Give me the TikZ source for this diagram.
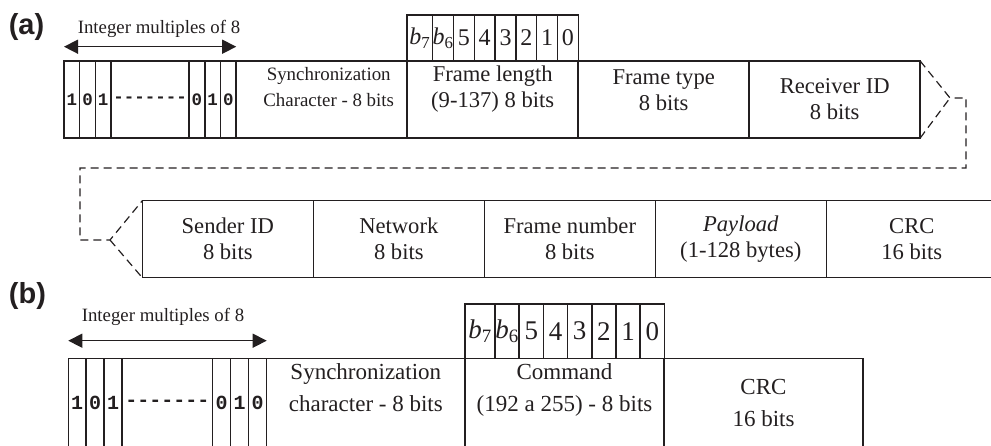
\documentclass[tikz,border=0pt]{standalone}
\usepackage{fontspec}
\setmainfont{Liberation Serif}
\setsansfont{Liberation Sans}
\setmonofont{Liberation Mono}
\usetikzlibrary{positioning,arrows.meta}
\definecolor{ink}{HTML}{231F20}

\tikzset{
  field/.style={draw=ink, text=ink, line width=1.5pt, inner sep=0pt, outer sep=0pt,
    align=center, minimum width=171pt, minimum height=77pt,
    font=\fontsize{22.6}{26}\selectfont},
  bitcell/.style={field, minimum width=15.7pt, font=\fontsize{17.5}{17.5}\ttfamily\bfseries},
  numcell/.style={field, minimum width=20.8pt, minimum height=46pt,
    font=\fontsize{24}{24}\selectfont},
  fieldb/.style={field, minimum width=199pt, minimum height=90pt,
    font=\fontsize{23}{32}\selectfont},
  bitcellb/.style={fieldb, minimum width=18pt, font=\fontsize{20}{20}\ttfamily\bfseries},
  numcellb/.style={fieldb, minimum width=24.2pt, minimum height=54.3pt,
    font=\fontsize{27}{27}\selectfont},
  dimarrow/.style={draw=ink, line width=1.5pt,
    {Triangle[length=14pt,width=14pt]}-{Triangle[length=14pt,width=14pt]}},
  joinline/.style={draw=ink, line width=1.2pt, dash pattern=on 8pt off 5pt},
  tag/.style={text=ink, font=\fontsize{29}{29}\sffamily\bfseries},
  note/.style={text=ink, font=\fontsize{18.8}{25.5}\selectfont}
}

\begin{document}
\begin{tikzpicture}[x=1pt,y=-1pt]
\useasboundingbox (0,0) rectangle (991,445);
\clip (0,0) rectangle (991,445);

% (a) first row
\node[tag] (taga) at (26.5,26.5) {(a)};
\node[bitcell, anchor=north west] (a1) at (64,61) {1};
\node[bitcell, right=0pt of a1] (a2) {0};
\node[bitcell, right=0pt of a2] (a3) {1};
\node[bitcell, right=0pt of a3, minimum width=78pt] (adots) {-{}-{}-{}-{}-{}-{}-};
\node[bitcell, right=0pt of adots] (a4) {0};
\node[bitcell, right=0pt of a4] (a5) {1};
\node[bitcell, right=0pt of a5] (a6) {0};
\node[field, right=0pt of a6, font=\fontsize{18.9}{26}\selectfont] (async)
  {\hspace*{14pt}Synchronization\\\hspace*{14pt}Character - 8 bits\\\mbox{}};
\node[field, right=0pt of async] (aflen) {Frame length\\(9-137) 8 bits\\\mbox{}};
\node[field, right=0pt of aflen] (aftype) {Frame type\\8 bits\\[-8pt]\mbox{}};
\node[field, right=0pt of aftype] (arx) {Receiver ID\\8 bits};

% bits of the length byte
\node[numcell, anchor=south west, minimum width=25.3pt] (fb7) at (aflen.north west) {\textit{b}\textsubscript{7}};
\node[numcell, right=0pt of fb7, minimum width=21pt] (fb6) {\textit{b}\textsubscript{6}};
\foreach \d/\p in {5/6,4/5,3/4,2/3,1/2,0/1}
  \node[numcell, right=0pt of fb\p] (fb\d) {\d};

\node[note] (multa) at (159,28.5) {Integer multiples of 8};
\draw[dimarrow] ([yshift=14.3pt]a1.north west) -- ([yshift=14.3pt]a6.north east);

% (a) second row
\node[field, anchor=north west] (bsend) at (142.3,200.7) {Sender ID\\8 bits};
\node[field, right=0pt of bsend] (bnet) {Network\\8 bits};
\node[field, right=0pt of bnet] (bfnum) {Frame number\\8 bits};
\node[field, right=0pt of bfnum] (bpay) {\textit{Payload}\\(1-128 bytes)};
\node[field, right=0pt of bpay] (bcrc) {CRC\\16 bits};

% fold between the rows
\coordinate (foldr) at (950,98);
\coordinate (foldl) at (110,240);
\draw[joinline] (arx.north east) -- (foldr) -- ++(16,0) -- ++(0,70) -| ([xshift=-30pt]foldl) -- (foldl) -- (bsend.north west);
\draw[joinline] (arx.south east) -- (foldr);
\draw[joinline] (foldl) -- (bsend.south west);

% (b)
\node[tag] (tagb) at (27.5,295.5) {(b)};
\node[bitcellb, anchor=north west, minimum width=17.7pt] (c1) at (68.3,358.3) {1};
\node[bitcellb, right=0pt of c1] (c2) {0};
\node[bitcellb, right=0pt of c2] (c3) {1};
\node[bitcellb, right=0pt of c3, minimum width=90.7pt] (cdots) {-{}-{}-{}-{}-{}-{}-};
\node[bitcellb, right=0pt of cdots] (c4) {0};
\node[bitcellb, right=0pt of c4] (c5) {1};
\node[bitcellb, right=0pt of c5] (c6) {0};
\node[fieldb, right=0pt of c6, minimum width=198.3pt] (csync) {Synchronization\\character - 8 bits\\\mbox{}};
\node[fieldb, right=0pt of csync] (ccmd) {Command\\(192 a 255) - 8 bits\\\mbox{}};
\node[fieldb, right=0pt of ccmd] (ccrc) {CRC\\16 bits};

\node[numcellb, anchor=south west, minimum width=30pt] (gb7) at (ccmd.north west) {\textit{b}\textsubscript{7}};
\node[numcellb, right=0pt of gb7] (gb6) {\textit{b}\textsubscript{6}};
\foreach \d/\p in {5/6,4/5,3/4,2/3,1/2,0/1}
  \node[numcellb, right=0pt of gb\p] (gb\d) {\d};

\node[note] (multb) at (163,316.5) {Integer multiples of 8};
\draw[dimarrow] ([yshift=17.6pt]c1.north west) -- ([yshift=17.6pt]c6.north east);
\end{tikzpicture}
\end{document}
